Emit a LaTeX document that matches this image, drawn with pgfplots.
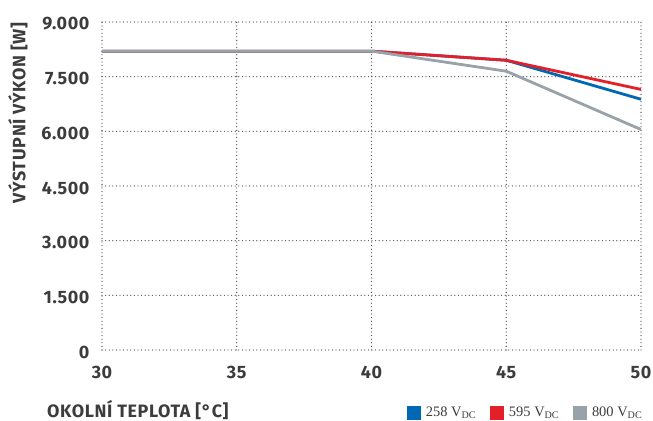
\documentclass[border=0pt]{standalone}
\usepackage{fontspec}
\setmainfont{Liberation Serif}
\newfontfamily\labfont[LetterSpace=3.5]{Fira Sans}
\usepackage{pgfplots}
\pgfplotsset{compat=1.18}
\definecolor{txt}{HTML}{3C3C3C}
\definecolor{gridc}{HTML}{505050}
\definecolor{cblue}{HTML}{0068B4}
\definecolor{cred}{HTML}{E3202A}
\definecolor{cgrey}{HTML}{97A2A9}
\begin{document}
\begin{tikzpicture}
  \begin{axis}[
    name=ax,
    scale only axis,
    width=539bp,
    height=328bp,
    xmin=30, xmax=50,
    ymin=0, ymax=9000,
    xtick={30,35,40,45,50},
    ytick={0,1500,3000,4500,6000,7500,9000},
    axis line style={draw=none},
    tick style={draw=none},
    xmajorgrids=true,
    ymajorgrids=true,
    grid style={draw=gridc, line width=1.3bp, line cap=round, dash pattern=on 0bp off 3.6bp},
    /pgf/number format/assume math mode=true,
    /pgf/number format/1000 sep={.},
    scaled y ticks=false,
    tick label style={font=\labfont\bfseries\fontsize{18}{20}\selectfont, text=txt},
    yticklabel style={xshift=-9bp, yshift=-2bp},
    xticklabel style={yshift=-12.5bp},
    label style={font=\labfont\bfseries\fontsize{18}{20}\selectfont, text=txt},
    xlabel={OKOLNÍ TEPLOTA [°C]},
    ylabel={VÝSTUPNÍ VÝKON [W]},
    xlabel style={at={(axis description cs:0.0665,-0.183)}, anchor=center},
    ylabel style={at={(axis description cs:-0.156,0.723)}, anchor=center},
    legend columns=-1,
    legend style={at={(axis description cs:1.012,-0.191)}, anchor=east,
      draw=none, fill=none, font=\fontsize{14.5}{16}\selectfont, text=txt,
      /tikz/every odd column/.append style={column sep=3bp},
      /tikz/every even column/.append style={column sep=12bp}},
    legend image code/.code={\fill (0bp,-5.5bp) rectangle (11bp,5.5bp);},
  ]
  \addplot[color=cblue, line width=2.8bp] coordinates {(30,8200)(40,8200)(45,7950)(50,6880)};
  \addplot[color=cred, line width=2.8bp] coordinates {(30,8200)(40,8200)(45,7950)(50,7150)};
  \addplot[color=cgrey, line width=2.8bp] coordinates {(30,8200)(40,8200)(45,7650)(50,6050)};
  \legend{258 V\textsubscript{DC}, 595 V\textsubscript{DC}, 800 V\textsubscript{DC}}
  \end{axis}
  \pgfresetboundingbox
  \useasboundingbox ([shift={(-102bp,-71bp)}]ax.south west) rectangle ([shift={(12bp,22bp)}]ax.north east);
\end{tikzpicture}
\end{document}
